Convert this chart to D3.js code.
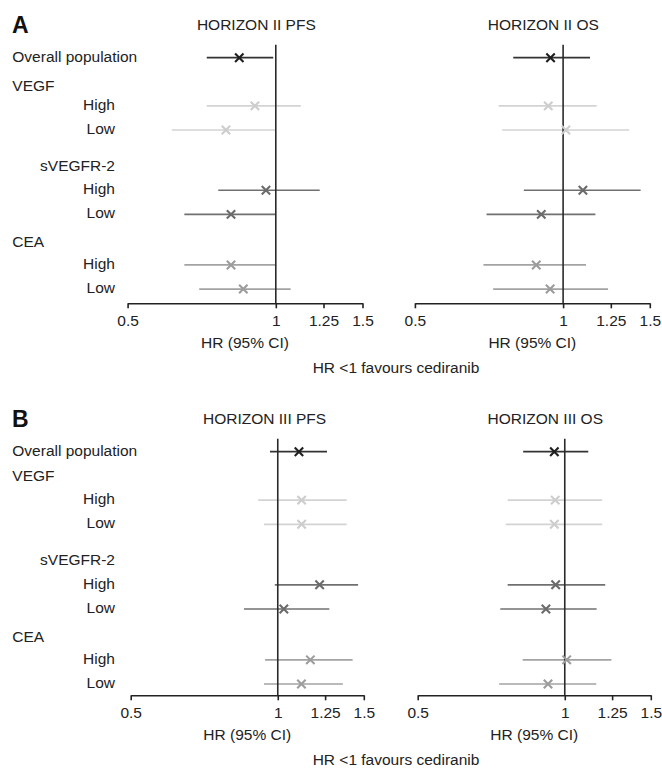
<!DOCTYPE html>
<html><head><meta charset="utf-8">
<script src="https://cdn.jsdelivr.net/npm/d3@7"></script>
<style>
body{margin:0;background:#fff}
svg{display:block}
text{font-family:"Liberation Sans",Arial,Helvetica,sans-serif;fill:#222}
</style>
</head><body>
<svg id="chart" width="662" height="774"></svg>
<script>
// ---------- DATA ----------
const subgroups = ["Overall population","VEGF High","VEGF Low","sVEGFR-2 High","sVEGFR-2 Low","CEA High","CEA Low"];
const subgroupGroup = ["Overall","VEGF","VEGF","sVEGFR-2","sVEGFR-2","CEA","CEA"];
const rowLabels = ["Overall population","VEGF","High","Low","sVEGFR-2","High","Low","CEA","High","Low"];
const panelLetters = ["A","B"];
const pfsTitles = ["HORIZON II PFS","HORIZON III PFS"];
const osTitles = ["HORIZON II OS","HORIZON III OS"];

const h2PfsHR = [0.843,0.907,0.792,0.955,0.811,0.811,0.859];
const h2PfsLo = [0.724,0.724,0.615,0.764,0.652,0.652,0.699];
const h2PfsHi = [0.988,1.124,1.000,1.228,1.000,1.000,1.072];
const h2OsHR  = [0.943,0.933,1.013,1.097,0.903,0.882,0.941];
const h2OsLo  = [0.792,0.740,0.752,0.832,0.699,0.689,0.721];
const h2OsHi  = [1.134,1.170,1.362,1.437,1.163,1.113,1.234];
const h3PfsHR = [1.105,1.119,1.119,1.218,1.029,1.166,1.118];
const h3PfsLo = [0.964,0.912,0.937,0.986,0.853,0.942,0.937];
const h3PfsHi = [1.261,1.384,1.384,1.460,1.275,1.423,1.359];
const h3OsHR  = [0.952,0.956,0.952,0.958,0.915,1.009,0.924];
const h3OsLo  = [0.822,0.764,0.757,0.764,0.738,0.820,0.734];
const h3OsHi  = [1.117,1.193,1.193,1.210,1.162,1.246,1.160];

const tickValues = [0.5,1,1.25,1.5];
const tickLabels = ["0.5","1","1.25","1.5"];
const xLabel = "HR (95% CI)";
const footLabel = "HR <1 favours cediranib";

// ---------- STYLE / LAYOUT ----------
const groupColor = {"Overall":"#1e1e1e","VEGF":"#cdcdcd","sVEGFR-2":"#6b6b6b","CEA":"#9c9c9c"};
const lineColor = {"Overall":"#333333","VEGF":"#d3d3d3","sVEGFR-2":"#707070","CEA":"#a3a3a3"};
const dataRowUnits = [0,2,3,5.5,6.5,8.6,9.6];
const labelUnits = [
  [0,1.24,2,3,4.55,5.5,6.5,7.7,8.6,9.6],
  [0,1.07,2,3,4.5,5.5,6.5,7.7,8.6,9.6]
];
const labelAnchor = ["start","start","end","end","end","end","end","start","end","end"];
const labelX = [12.3,12.3,115,115,115,115,115,12.3,115,115];
const panelLayout = [
  {y0:57.7, step:24.1, axisY:303.3, pfsRange:[127.6,362.5], osShift:287.3, titleX:[256.3,543.3], letterY:33.3, footX:396},
  {y0:451.7, step:24.2, axisY:695.3, pfsRange:[130.7,363.8], osShift:287.0, titleX:[264.6,545.3], letterY:426.7, footX:396}
];
const FS = 15.5;

const panelsData = [
  [{hr:h2PfsHR,lo:h2PfsLo,hi:h2PfsHi},{hr:h2OsHR,lo:h2OsLo,hi:h2OsHi}],
  [{hr:h3PfsHR,lo:h3PfsLo,hi:h3PfsHi},{hr:h3OsHR,lo:h3OsLo,hi:h3OsHi}]
];

const svg = d3.select("#chart");

panelLayout.forEach((L, p) => {
  const g = svg.append("g");
  const rowY = u => L.y0 + u*L.step;

  // panel letter
  g.append("text").attr("x",12).attr("y",L.letterY)
    .style("font-size","23px").style("font-weight","bold").style("fill","#111")
    .text(panelLetters[p]);

  // row labels
  rowLabels.forEach((lab,i) => {
    g.append("text").attr("x",labelX[i]).attr("y",rowY(labelUnits[p][i])+3.9)
      .attr("text-anchor",labelAnchor[i]).style("font-size",FS+"px").text(lab);
  });

  [0,1].forEach(k => {
    const range = k===0 ? L.pfsRange : L.pfsRange.map(v=>v+L.osShift);
    const x = d3.scaleLog().domain([0.5,1.5]).range(range);
    const d = panelsData[p][k];
    const title = k===0 ? pfsTitles[p] : osTitles[p];
    const sub = g.append("g");

    sub.append("text").attr("x",L.titleX[k]).attr("y",L.y0-27.5)
      .attr("text-anchor","middle").style("font-size",FS+"px").text(title);

    // CI lines
    subgroups.forEach((s,i) => {
      const grp = subgroupGroup[i];
      sub.append("line")
        .attr("x1",x(d.lo[i])).attr("x2",x(d.hi[i]))
        .attr("y1",rowY(dataRowUnits[i])).attr("y2",rowY(dataRowUnits[i]))
        .attr("stroke",lineColor[grp]).attr("stroke-width",1.7);
    });

    // reference line at HR = 1
    sub.append("line").attr("x1",x(1)).attr("x2",x(1))
      .attr("y1",L.y0-13).attr("y2",L.axisY)
      .attr("stroke","#2a2a2a").attr("stroke-width",1.6);

    // markers
    subgroups.forEach((s,i) => {
      const grp = subgroupGroup[i];
      const cx = x(d.hr[i]), cy = rowY(dataRowUnits[i]), r = 4.2;
      sub.append("path")
        .attr("d",`M${cx-r},${cy-r}L${cx+r},${cy+r}M${cx-r},${cy+r}L${cx+r},${cy-r}`)
        .attr("stroke",groupColor[grp]).attr("stroke-width",2.1).attr("fill","none");
    });

    // axis
    const axis = d3.axisBottom(x).tickValues(tickValues)
      .tickFormat((v,i)=>tickLabels[i]).tickSize(5).tickSizeOuter(0).tickPadding(7);
    const ag = sub.append("g").attr("transform",`translate(0,${L.axisY})`).call(axis);
    ag.select(".domain").attr("stroke","#222").attr("stroke-width",1.6);
    ag.selectAll(".tick line").attr("stroke","#222").attr("stroke-width",1.6);
    ag.selectAll(".tick text").style("font-size",FS+"px")
      .style("font-family","'Liberation Sans',Arial,Helvetica,sans-serif").attr("fill","#222");

    sub.append("text").attr("x",(range[0]+range[1])/2).attr("y",L.axisY+45)
      .attr("text-anchor","middle").style("font-size",FS+"px").text(xLabel);
  });

  g.append("text").attr("x",L.footX).attr("y",L.axisY+70)
    .attr("text-anchor","middle").style("font-size",FS+"px").text(footLabel);
});
</script>
</body></html>
